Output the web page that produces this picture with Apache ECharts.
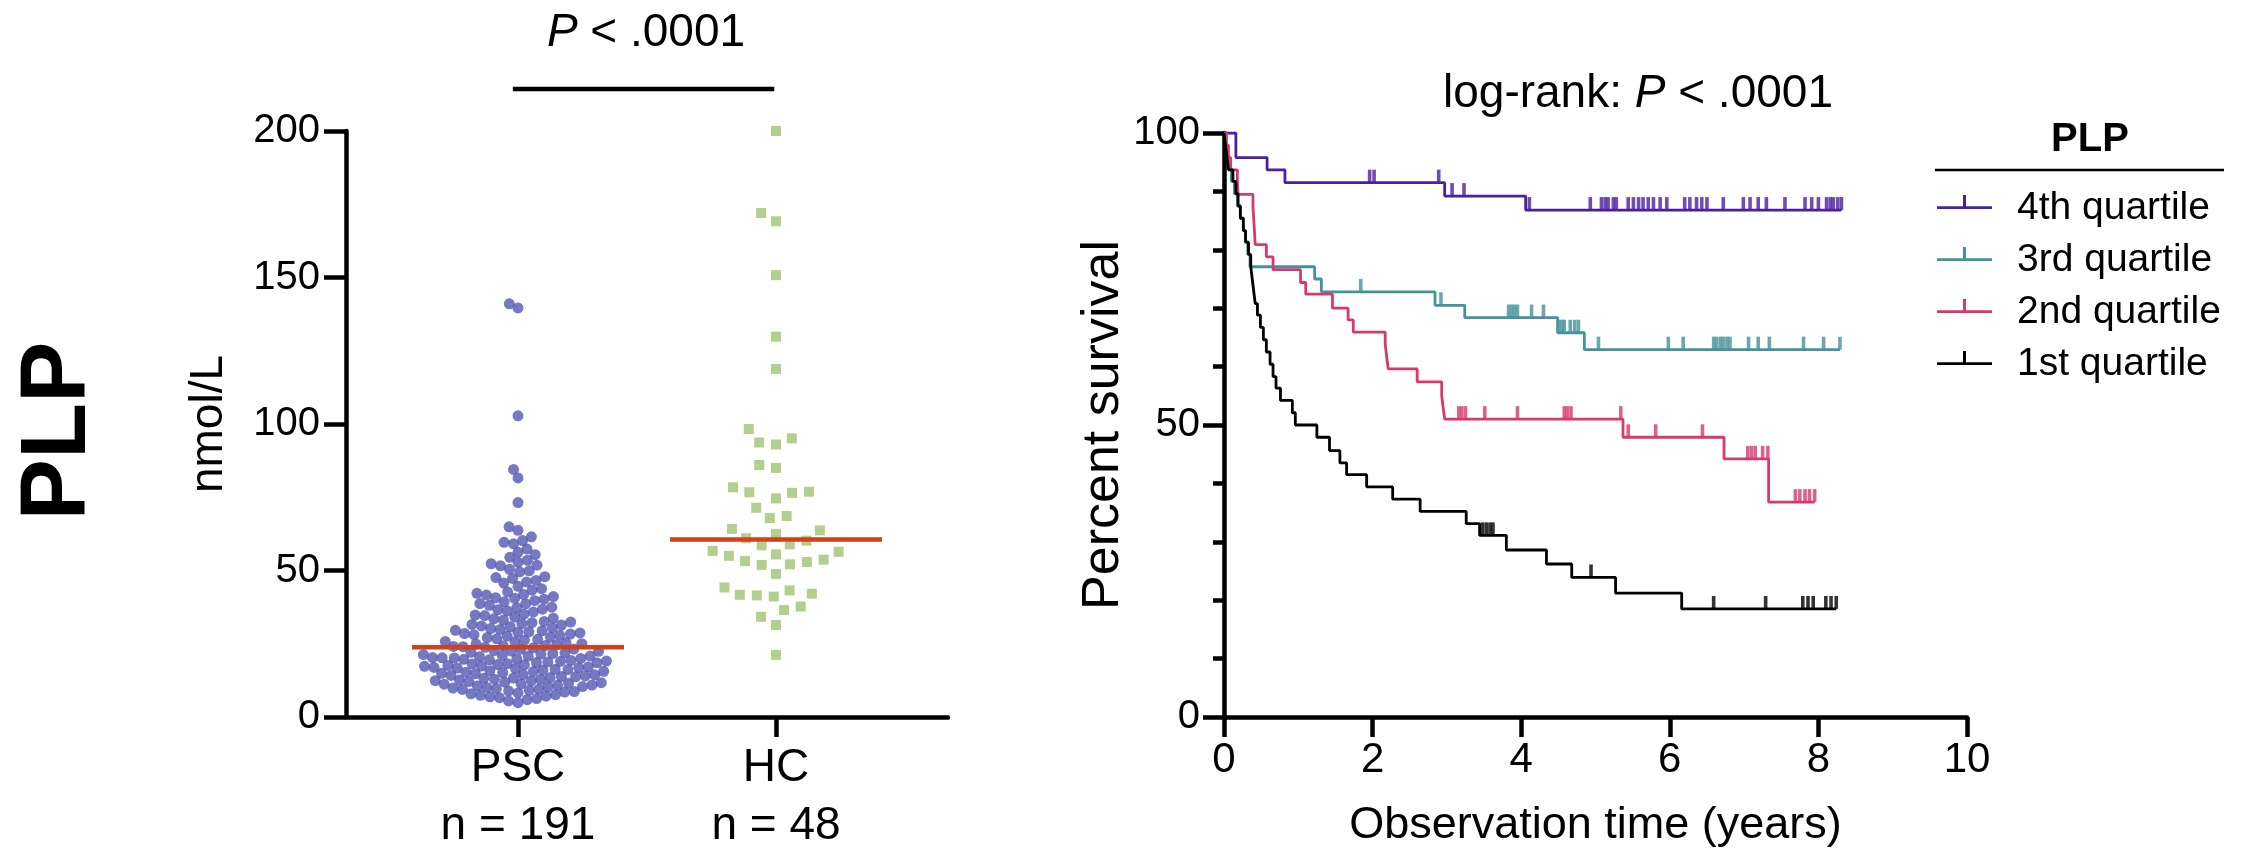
<!DOCTYPE html>
<html><head><meta charset="utf-8">
<script src="https://cdn.jsdelivr.net/npm/echarts@6/dist/echarts.min.js"></script>
<style>html,body{margin:0;padding:0;background:#fff}#c{width:2247px;height:859px}</style>
</head><body><div id="c"></div>
<script>
// ---------- DATA ----------
const groups = ['PSC', 'HC'];
const pscValues = [141.0, 139.6, 102.8, 84.5, 81.6, 73.2,
  64.9, 63.7, 61.5, 60.2,
  59.6, 59.1, 57.3, 56.2, 55.4,
  54.5, 53.5, 52.8, 52.3, 51.8, 51.6, 50.4,
  49.9, 49.5, 47.9, 47.6, 47.3, 46.6, 46.1, 45.7,
  44.6, 43.8, 43.3, 42.7, 42.2, 41.8, 41.6, 41.1, 40.7, 40.5, 40.2,
  39.7, 39.3, 38.7, 38.6, 38.1, 37.5, 37.3, 36.8, 36.6, 36.2,
  35.8, 35.1, 34.8, 34.6, 34.1, 33.7, 33.5, 33.1, 32.6, 32.4, 32.2,
  31.9, 31.6, 31.4, 31.1, 30.8, 30.4, 30.2, 29.9, 29.6, 29.4, 29.1, 28.9, 28.7, 28.5, 28.3, 28.1,
  27.9, 27.6, 27.2, 27.1, 26.7, 26.5, 26.2, 25.8, 25.7, 25.4, 25.0, 24.9, 24.6, 24.4, 24.3, 24.1, 24.0,
  23.8, 23.6, 23.2, 23.1, 22.7, 22.5, 22.4, 22.1, 21.9, 21.6, 21.5, 21.3, 21.0, 20.8, 20.8, 20.6, 20.3, 20.2, 20.1, 20.0,
  19.8, 19.7, 19.5, 19.3, 19.1, 19.0, 18.8, 18.6, 18.5, 18.2, 18.1, 17.9, 17.8, 17.6, 17.4, 17.3, 17.1, 16.9, 16.8, 16.7, 16.5, 16.3, 16.2, 16.0,
  15.8, 15.6, 15.5, 15.3, 15.1, 14.9, 14.8, 14.5, 14.4, 14.2, 14.0, 13.8, 13.7, 13.5, 13.3, 13.2, 12.9, 12.8, 12.6, 12.4, 12.3, 12.1,
  11.9, 11.7, 11.5, 11.3, 11.2, 10.9, 10.8, 10.6, 10.4, 10.3, 10.1, 9.9, 9.7, 9.5, 9.4, 9.1, 8.9, 8.7, 8.5, 8.2,
  7.9, 7.6, 7.4, 7.1, 6.9, 6.6, 6.3, 5.9, 5.5, 4.9];
const hcValues = [200.0, 172.0, 169.2, 150.8, 129.8, 118.8, 98.3, 95.1, 93.7, 93.0, 86.0, 85.0,
  78.4, 76.7, 76.5, 76.9, 74.6, 71.4, 68.6, 67.9, 64.2, 63.7, 62.5, 61.0, 60.2, 58.9, 58.6,
  56.7, 56.4, 55.5, 55.0, 53.7, 53.2, 52.9, 52.1, 51.9, 48.8, 44.2, 43.2, 42.1, 41.7, 41.5, 41.1,
  37.7, 36.5, 34.2, 31.4, 21.2];
const leftYTicks = [0, 50, 100, 150, 200];

const kmNames = ['4th quartile', '3rd quartile', '2nd quartile', '1st quartile'];
const q4Times = [0, 0.16, 0.58, 0.82, 2.97, 4.06];
const q4Surv  = [100, 95.8, 93.7, 91.5, 89.2, 86.8];
const q4Cens  = [1.96, 2.02, 2.89, 3.07, 3.23, 4.11, 4.93, 5.08, 5.13, 5.17, 5.24, 5.28, 5.44, 5.51, 5.58, 5.64, 5.71, 5.78, 5.87, 5.96, 6.20, 6.27, 6.36, 6.43, 6.50, 6.72, 6.99, 7.08, 7.19, 7.30, 7.55, 7.82, 7.91, 8.00, 8.11, 8.16, 8.20, 8.26, 8.31];
const q3Times = [0, 0.03, 0.05, 0.07, 0.10, 0.14, 0.18, 0.22, 0.26, 0.29, 0.32, 0.35, 1.22, 1.31, 2.84, 3.24, 4.49, 4.85];
const q3Surv  = [100, 97.9, 95.8, 93.8, 91.7, 89.6, 87.5, 85.4, 83.3, 81.3, 79.2, 77.1, 75.0, 72.8, 70.5, 68.4, 65.8, 62.9];
const q3Cens  = [1.84, 2.92, 3.83, 3.87, 3.91, 3.95, 4.14, 4.30, 4.51, 4.55, 4.58, 4.66, 4.72, 4.77, 5.04, 5.98, 6.18, 6.59, 6.63, 6.68, 6.72, 6.77, 6.81, 7.06, 7.19, 7.34, 7.80, 8.07, 8.29];
const q2Times = [0, 0.03, 0.06, 0.09, 0.18, 0.19, 0.39, 0.40, 0.41, 0.42, 0.57, 0.66, 1.03, 1.10, 1.46, 1.67, 1.74, 2.17, 2.19, 2.21, 2.60, 2.93, 2.95, 2.97, 5.37, 6.73, 7.33];
const q2Surv  = [100, 97.9, 95.8, 93.7, 91.6, 89.5, 87.4, 85.3, 83.2, 80.9, 78.8, 76.6, 74.4, 72.4, 70.0, 68.0, 65.9, 63.8, 61.6, 59.6, 57.4, 55.0, 53.0, 51.0, 47.9, 44.2, 36.8];
const q2Cens  = [3.16, 3.20, 3.25, 3.51, 3.95, 4.58, 4.62, 4.67, 5.34, 5.44, 5.81, 6.44, 7.05, 7.10, 7.15, 7.25, 7.32, 7.69, 7.75, 7.82, 7.88, 7.95];
const q1Times = [0, 0.02, 0.04, 0.06, 0.12, 0.16, 0.19, 0.22, 0.26, 0.29, 0.33, 0.36, 0.38, 0.40, 0.42, 0.45, 0.49, 0.53, 0.57, 0.62, 0.66, 0.70, 0.76, 0.92, 0.96, 1.25, 1.42, 1.56, 1.65, 1.92, 2.27, 2.64, 3.26, 3.44, 3.80, 4.34, 4.68, 5.27, 6.16];
const q1Surv  = [100, 97.9, 95.8, 93.7, 91.7, 89.6, 87.5, 85.4, 83.3, 81.3, 79.2, 77.1, 75.0, 72.9, 70.8, 68.8, 66.7, 64.6, 62.5, 60.4, 58.3, 56.3, 54.2, 52.1, 50.0, 47.9, 45.6, 43.5, 41.5, 39.4, 37.3, 35.2, 33.1, 31.1, 28.6, 26.2, 23.9, 21.2, 18.5];
const q1Cens  = [3.48, 3.53, 3.58, 3.62, 4.94, 6.59, 7.29, 7.79, 7.86, 7.93, 8.10, 8.17, 8.24];
const kmXTicks = [0, 2, 4, 6, 8, 10];

// ---------- LAYOUT / STYLE ----------
const FF = '"Liberation Sans", Arial, Helvetica, sans-serif';
const G0 = {left: 346, top: 131, width: 602, height: 586};
const G1 = {left: 1224, top: 133, width: 743, height: 584};
const X0MAX = 7, catPos = [2, 5];
const kmColors = ['#4a1fa0', '#43939a', '#d6396f', '#000000'];
const AX = {color: '#000', width: 4.5};

function median(a) { const s = a.slice().sort((x, y) => x - y); const n = s.length; return n % 2 ? s[(n - 1) / 2] : (s[n / 2 - 1] + s[n / 2]) / 2; }
function swarm(vals, d, pxPerY) {
  const placed = [], out = new Array(vals.length);
  const order = vals.map((v, i) => ({v, i})).sort((a, b) => a.v - b.v);
  for (const p of order) {
    const y = p.v * pxPerY;
    const near = placed.filter(q => Math.abs(q.y - y) < d);
    const cands = [0];
    near.forEach(q => { const dx = Math.sqrt(d * d - (q.y - y) ** 2); cands.push(q.x + dx, q.x - dx); });
    cands.sort((a, b) => Math.abs(a) - Math.abs(b) || a - b);
    for (const c of cands) {
      if (near.every(q => (q.x - c) ** 2 + (q.y - y) ** 2 >= d * d - 0.01)) { placed.push({x: c, y}); out[p.i] = c; break; }
    }
  }
  return out;
}
const pxPerY0 = G0.height / 200, pxPerX0 = G0.width / X0MAX;
const pscOff = swarm(pscValues, 9.6, pxPerY0);
const hcOff = swarm(hcValues, 17, pxPerY0);
const pscData = pscValues.map((v, i) => [catPos[0] + pscOff[i] / pxPerX0, v]);
const hcData = hcValues.map((v, i) => [catPos[1] + hcOff[i] / pxPerX0, v]);
const halfMed = 106 / pxPerX0;
const pscMed = median(pscValues), hcMed = median(hcValues);

function stepData(times, surv, cens) {
  const d = times.map((t, i) => [t, surv[i]]);
  const last = Math.max(...cens);
  if (last > times[times.length - 1]) d.push([last, surv[surv.length - 1]]);
  return d;
}
function censData(times, surv, cens) {
  return cens.map(c => { let s = surv[0]; for (let i = 0; i < times.length; i++) if (times[i] <= c) s = surv[i]; return [c, s]; });
}
const km = [[q4Times, q4Surv, q4Cens], [q3Times, q3Surv, q3Cens], [q2Times, q2Surv, q2Cens], [q1Times, q1Surv, q1Cens]];
const kmSeries = [];
km.forEach((g, k) => {
  kmSeries.push({type: 'line', name: kmNames[k], xAxisIndex: 1, yAxisIndex: 1, step: 'end', symbol: 'none',
    data: stepData(g[0], g[1], g[2]), lineStyle: {color: kmColors[k], width: 2.8}, itemStyle: {color: kmColors[k]}, z: 3 + k, animation: false});
  kmSeries.push({type: 'scatter', name: kmNames[k], xAxisIndex: 1, yAxisIndex: 1, symbol: 'rect', symbolSize: [3.6, 13], symbolOffset: [0, -6.5],
    data: censData(g[0], g[1], g[2]), itemStyle: {color: kmColors[k]}, z: 3 + k, animation: false});
});

const chart = echarts.init(document.getElementById('c'), null, {renderer: 'canvas'});
chart.setOption({
  backgroundColor: '#fff',
  animation: false,
  textStyle: {fontFamily: FF},
  grid: [Object.assign({outerBoundsMode: 'none', containLabel: false}, G0), Object.assign({outerBoundsMode: 'none', containLabel: false}, G1)],
  xAxis: [
    {type: 'value', gridIndex: 0, min: 0, max: X0MAX, splitLine: {show: false},
      axisLine: {show: true, lineStyle: AX},
      axisTick: {show: true, customValues: catPos, length: 20, lineStyle: AX},
      axisLabel: {customValues: catPos, color: '#000', fontSize: 46, lineHeight: 58, margin: 22, fontFamily: FF,
        formatter: v => { const i = catPos.indexOf(v); return groups[i] + '\nn = ' + [pscValues, hcValues][i].length; }}},
    {type: 'value', gridIndex: 1, min: kmXTicks[0], max: kmXTicks[kmXTicks.length - 1], interval: 2, splitLine: {show: false},
      axisLine: {show: true, lineStyle: AX},
      axisTick: {show: true, length: 20, lineStyle: AX},
      axisLabel: {color: '#000', fontSize: 42, margin: 22, fontFamily: FF},
      name: 'Observation time (years)', nameLocation: 'middle', nameGap: 86,
      nameTextStyle: {color: '#000', fontSize: 45, fontFamily: FF}}
  ],
  yAxis: [
    {type: 'value', gridIndex: 0, min: leftYTicks[0], max: leftYTicks[leftYTicks.length - 1], interval: 50, splitLine: {show: false},
      axisLine: {show: true, lineStyle: AX},
      axisTick: {show: true, length: 22, lineStyle: AX},
      axisLabel: {color: '#000', fontSize: 40, margin: 26, fontFamily: FF},
      name: 'nmol/L', nameLocation: 'middle', nameGap: 114,
      nameTextStyle: {color: '#000', fontSize: 46, fontFamily: FF}},
    {type: 'value', gridIndex: 1, min: 0, max: 100, interval: 50, splitLine: {show: false},
      axisLine: {show: true, lineStyle: AX},
      axisTick: {show: true, length: 21, lineStyle: AX},
      minorTick: {show: true, splitNumber: 5, length: 11, lineStyle: AX},
      axisLabel: {color: '#000', fontSize: 40, margin: 24, fontFamily: FF},
      name: 'Percent survival', nameLocation: 'middle', nameGap: 88,
      nameTextStyle: {color: '#000', fontSize: 52, fontFamily: FF}}
  ],
  legend: {orient: 'vertical', left: 1932, top: 183, itemWidth: 55, itemHeight: 26, itemGap: 12,
    icon: 'path://M0,11.2H55V14H0Z M26,0H29V11.2H26Z M0,26',
    data: kmNames, selectedMode: false,
    textStyle: {fontSize: 39, color: '#000', fontFamily: FF, lineHeight: 40, padding: [0, 0, 0, 20]}},
  graphic: [
    {type: 'text', x: 60, y: 431, rotation: Math.PI / 2,
      style: {text: 'PLP', font: 'bold 92px ' + FF, fill: '#000', align: 'center', verticalAlign: 'middle'}},
    {type: 'text', x: 646, y: 33,
      style: {text: '{i|P} < .0001', font: '46px ' + FF, fill: '#000', align: 'center', verticalAlign: 'middle',
        rich: {i: {fontStyle: 'italic', fontSize: 46, fontFamily: FF}}}},
    {type: 'text', x: 1638, y: 94,
      style: {text: 'log-rank: {i|P} < .0001', font: '46px ' + FF, fill: '#000', align: 'center', verticalAlign: 'middle',
        rich: {i: {fontStyle: 'italic', fontSize: 46, fontFamily: FF}}}},
    {type: 'text', x: 2090, y: 140,
      style: {text: 'PLP', font: 'bold 40px ' + FF, fill: '#000', align: 'center', verticalAlign: 'middle'}},
    {type: 'line', shape: {x1: 1935, y1: 170, x2: 2224, y2: 170}, style: {stroke: '#000', lineWidth: 2.5}}
  ],
  series: [
    {type: 'scatter', xAxisIndex: 0, yAxisIndex: 0, data: pscData, symbol: 'circle', symbolSize: 11,
      itemStyle: {color: '#5258b3'}, z: 2, animation: false},
    {type: 'scatter', xAxisIndex: 0, yAxisIndex: 0, data: hcData, symbol: 'rect', symbolSize: 10,
      itemStyle: {color: '#a0c371'}, z: 2, animation: false},
    {type: 'line', xAxisIndex: 0, yAxisIndex: 0, data: [[catPos[0] - halfMed, pscMed], [catPos[0] + halfMed, pscMed]],
      symbol: 'none', lineStyle: {color: '#d0401d', width: 4.5}, z: 5, animation: false},
    {type: 'line', xAxisIndex: 0, yAxisIndex: 0, data: [[catPos[1] - halfMed, hcMed], [catPos[1] + halfMed, hcMed]],
      symbol: 'none', lineStyle: {color: '#d0401d', width: 4.5}, z: 5, animation: false},
    {type: 'line', xAxisIndex: 0, yAxisIndex: 0, data: [[1.94, 214.3], [4.98, 214.3]], clip: false,
      symbol: 'none', lineStyle: {color: '#000', width: 4.5}, z: 5, animation: false}
  ].concat(kmSeries)
});
</script></body></html>
